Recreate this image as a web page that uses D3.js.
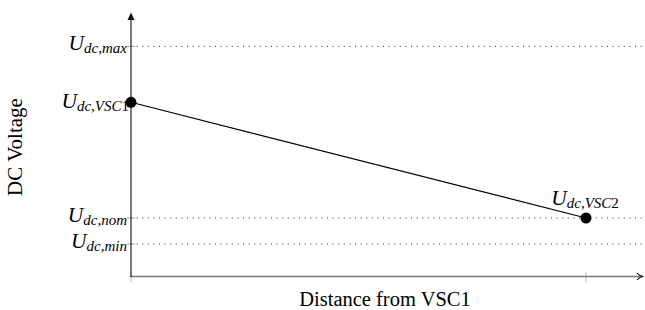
<!DOCTYPE html>
<html><head><meta charset="utf-8">
<script src="https://cdn.jsdelivr.net/npm/d3@7"></script>
<style>body{margin:0;background:#fff}svg{display:block}</style>
</head><body>
<svg id="c" width="645" height="310"></svg>
<script>
// Data
const levelNames = ["max", "nom", "min"];
const levelValues = [1.66, 1.0, 0.9];
const pointNames = ["VSC1", "VSC2"];
const pointX = [0, 1];
const pointY = [1.445, 1.0];
const xTickValues = [0, 1];
const xLabel = "Distance from VSC1";
const yLabel = "DC Voltage";

const svg = d3.select("#c");
const font = "'Liberation Serif', 'Times New Roman', serif";
const x0 = 131, yAxisBottom = 276.5;
const x = d3.scaleLinear().domain([0, 1]).range([x0, 586]);
const y = d3.scaleLinear().domain([0.9, 1.0]).range([244, 218]);

// dotted reference lines
svg.append("g").selectAll("line").data(levelValues).join("line")
  .attr("x1", x0).attr("x2", 643)
  .attr("y1", d => y(d)).attr("y2", d => y(d))
  .attr("stroke", "#333").attr("stroke-width", 1)
  .attr("stroke-dasharray", "1,4.6");

// level ticks on y axis
svg.append("g").selectAll("line").data(levelValues).join("line")
  .attr("x1", x0 - 4).attr("x2", x0 + 4)
  .attr("y1", d => y(d)).attr("y2", d => y(d))
  .attr("stroke", "#888").attr("stroke-width", 0.8);

// x ticks
svg.append("g").selectAll("line").data(xTickValues).join("line")
  .attr("x1", d => x(d)).attr("x2", d => x(d))
  .attr("y1", yAxisBottom - 4).attr("y2", yAxisBottom + 6)
  .attr("stroke", "#bbb").attr("stroke-width", 1);

// x axis
svg.append("line").attr("x1", x0).attr("x2", 641).attr("y1", yAxisBottom).attr("y2", yAxisBottom)
  .attr("stroke", "#777").attr("stroke-width", 1.6);
svg.append("path").attr("d", `M${637},${yAxisBottom-3.5} Q${640},${yAxisBottom} ${643.5},${yAxisBottom} Q${640},${yAxisBottom} ${637},${yAxisBottom+3.5}`)
  .attr("fill", "none").attr("stroke", "#111").attr("stroke-width", 1.1);

// y axis
svg.append("line").attr("x1", x0).attr("x2", x0).attr("y1", yAxisBottom + 0.8).attr("y2", 15)
  .attr("stroke", "#333").attr("stroke-width", 1.3);
svg.append("path").attr("d", `M${x0-3.5},${20} L${x0},${12.5} L${x0+3.5},${20} Z`)
  .attr("fill", "#111");

// connecting line
const lineGen = d3.line().x((d, i) => x(pointX[i])).y(d => y(d));
svg.append("path").attr("d", lineGen(pointY)).attr("fill", "none")
  .attr("stroke", "#000").attr("stroke-width", 1.1);

// labels helper
function ulabel(g, sub, digit, xp, yp, anchor) {
  const t = g.append("text").attr("x", xp).attr("y", yp).attr("text-anchor", anchor)
    .attr("font-family", font).attr("font-style", "italic").attr("fill", "#000");
  t.append("tspan").attr("font-size", 21.5).text("U");
  t.append("tspan").attr("font-size", 15).attr("dy", 3).text(sub);
  if (digit) t.append("tspan").attr("font-size", 15).attr("font-style", "normal").text(digit);
  return t;
}
const lg = svg.append("g");
levelNames.forEach((n, i) => ulabel(lg, "dc," + n, "", 127, y(levelValues[i]) + 4, "end"));
ulabel(lg, "dc,VSC", "1", 129, y(pointY[0]) + 6, "end");
ulabel(lg, "dc,VSC", "2", 585, y(pointY[1]) - 13, "middle");

// points
svg.append("g").selectAll("circle").data(pointY).join("circle")
  .attr("cx", (d, i) => x(pointX[i])).attr("cy", d => y(d)).attr("r", 5.5).attr("fill", "#000");

// axis titles
svg.append("text").attr("x", 385).attr("y", 306).attr("text-anchor", "middle")
  .attr("font-family", font).attr("font-size", 20.5).text(xLabel);
svg.append("text").attr("transform", "translate(22,147) rotate(-90)").attr("text-anchor", "middle")
  .attr("font-family", font).attr("font-size", 21).text(yLabel);
</script>
</body></html>
